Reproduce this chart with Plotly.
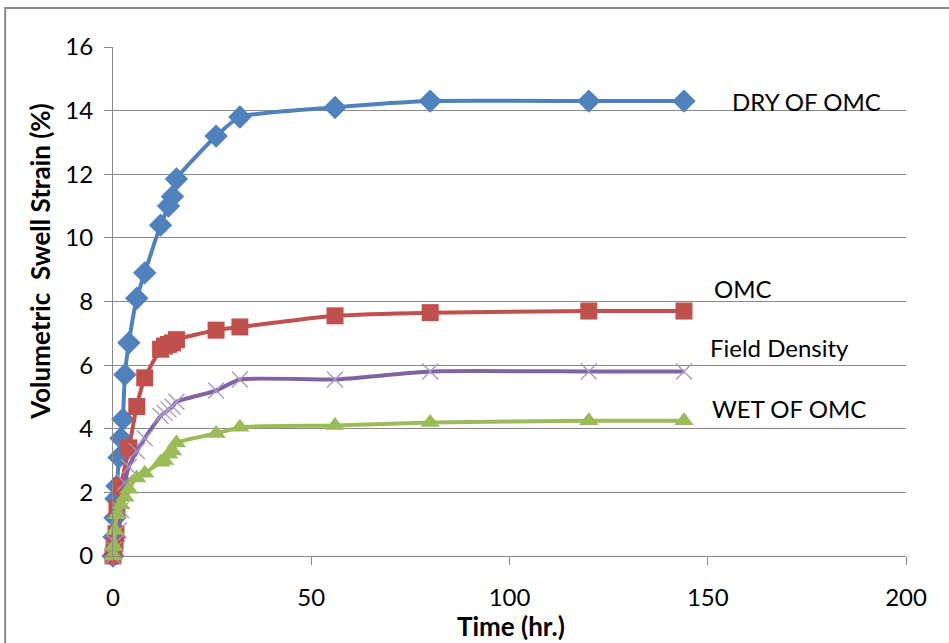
import plotly.graph_objects as go

dry_t = [0, 0.25, 0.5, 0.75, 1, 1.5, 2, 2.5, 3, 4, 6, 8, 12, 14, 15, 16, 26, 32, 56, 80, 120, 144]
dry_v = [0, 0.6, 1.2, 1.8, 2.2, 3.1, 3.7, 4.3, 5.7, 6.7, 8.1, 8.9, 10.4, 11.0, 11.3, 11.85, 13.2, 13.8, 14.1, 14.3, 14.3, 14.3]

omc_t = [0, 0.25, 0.5, 0.75, 1, 2, 4, 6, 8, 12, 13, 14, 15, 16, 26, 32, 56, 80, 120, 144]
omc_v = [0, 0.2, 0.4, 0.7, 1.5, 2.2, 3.4, 4.7, 5.6, 6.5, 6.6, 6.65, 6.7, 6.8, 7.1, 7.2, 7.55, 7.65, 7.7, 7.7]

fd_t = [0, 0.25, 0.5, 1.5, 2, 3, 4, 6, 8, 12, 13, 14, 15, 16, 26, 32, 56, 80, 120, 144]
fd_v = [0, 0.2, 0.4, 0.8, 1.45, 2.3, 2.8, 3.3, 3.7, 4.4, 4.5, 4.6, 4.7, 4.85, 5.2, 5.55, 5.55, 5.8, 5.8, 5.8]

wet_t = [0, 0.25, 0.5, 1, 2, 3, 4, 6, 8, 12, 13, 14, 15, 16, 26, 32, 56, 80, 120, 144]
wet_v = [0, 0.3, 0.8, 1.3, 1.6, 1.85, 2.1, 2.45, 2.6, 2.95, 3.0, 3.2, 3.3, 3.55, 3.85, 4.05, 4.1, 4.2, 4.25, 4.25]

labels = ["DRY OF OMC", "OMC", "Field Density", "WET OF OMC"]
label_x = [155.5, 151, 150, 150.5]
label_y = [14.3, 8.4, 6.55, 4.65]

x_title = "Time (hr.)"
y_title = "Volumetric  Swell Strain (%)"

FONT = "Lato, Arial"

fig = go.Figure()
series = [
    (dry_t, dry_v, "#4F81BD", "diamond", 18),
    (omc_t, omc_v, "#C0504D", "square", 17),
    (fd_t, fd_v, "#8064A2", "x-thin", 16),
    (wet_t, wet_v, "#9BBB59", "triangle-up", 17),
]
for (t, v, c, sym, sz), name in zip(series, labels):
    mk = dict(symbol=sym, size=sz, color=c)
    if sym == "x-thin":
        mk["line"] = dict(color="#A795C4", width=1.3)
    fig.add_trace(go.Scatter(x=t, y=v, mode="lines+markers", name=name,
                             line=dict(color=c, width=4, shape="spline", smoothing=0.5),
                             marker=mk, showlegend=False, cliponaxis=False))

for txt, x, y in zip(labels, label_x, label_y):
    fig.add_annotation(x=x, y=y, text=txt, showarrow=False, xanchor="left",
                       font=dict(family=FONT, size=24, color="#000"))

# axis titles
fig.add_annotation(xref="paper", yref="paper", x=0.502, y=-0.1375, text="<b>" + x_title + "</b>",
                   showarrow=False, xanchor="center", yanchor="middle",
                   font=dict(family=FONT, size=26, color="#000"))
fig.add_annotation(xref="paper", yref="paper", x=-0.092, y=0.578, text="<b>" + y_title + "</b>",
                   showarrow=False, xanchor="center", yanchor="middle", textangle=-90,
                   font=dict(family=FONT, size=26, color="#000"))

fig.add_shape(type="rect", xref="paper", yref="paper", x0=-0.136, y0=-0.3,
              x1=1.2, y1=1.0766, line=dict(color="#8a8a8a", width=2), layer="below")

fig.update_layout(
    width=949, height=643,
    margin=dict(l=113, r=43, t=47, b=87),
    paper_bgcolor="white", plot_bgcolor="white",
    font=dict(family=FONT, size=21, color="#000"),
)
fig.update_xaxes(range=[0, 200], tickvals=[0, 50, 100, 150, 200], showgrid=False,
                 showline=True, linecolor="#8a8a8a", linewidth=1,
                 ticks="outside", ticklen=8, tickcolor="#8a8a8a",
                 zeroline=False, tickfont=dict(family=FONT, size=24),
                 ticklabelstandoff=12)
fig.update_yaxes(range=[0, 16], tickvals=list(range(0, 17, 2)), showgrid=True,
                 gridcolor="#8a8a8a", gridwidth=1,
                 showline=True, linecolor="#8a8a8a", linewidth=1,
                 ticks="outside", ticklen=8, tickcolor="#8a8a8a",
                 zeroline=False, tickfont=dict(family=FONT, size=24),
                 ticklabelstandoff=6)

fig.write_html("out.html", config={"displayModeBar": False},
               post_script="document.body.style.margin='0';")
